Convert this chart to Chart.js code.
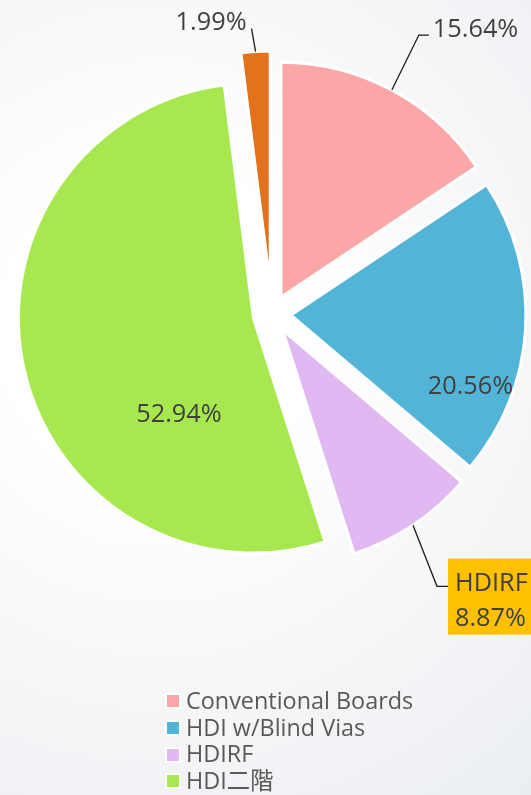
<!DOCTYPE html>
<html>
<head>
<meta charset="utf-8">
<script src="https://cdn.jsdelivr.net/npm/chart.js@4/dist/chart.umd.min.js"></script>
<style>
html, body { margin: 0; padding: 0; }
body {
  width: 531px; height: 795px; overflow: hidden; position: relative;
  background: radial-gradient(circle at 160px 330px, #ffffff 0px, #ffffff 150px, #e7eaee 680px);
  font-family: 'Open Sans', 'Noto Sans CJK TC', sans-serif;
}
#chart { position: absolute; left: 0; top: 0; }
#legend { position: absolute; left: 165px; top: 687px; color: #595959; font-size: 23.4px; }
.row { display: flex; align-items: center; height: 26.7px; line-height: 26.7px; white-space: nowrap; }
.box { width: 12px; height: 12px; border: 2px solid #fff; margin-right: 5px; position: relative; top: 1px; }
</style>
</head>
<body>
<canvas id="chart" width="531" height="795"></canvas>
<div id="legend"></div>
<script>
// data
const categories = ['Conventional Boards', 'HDI w/Blind Vias', 'HDIRF', 'HDI二階', 'Others'];
const shares = [15.64, 20.56, 8.87, 52.94, 1.99];
const percentLabels = ['15.64%', '20.56%', '8.87%', '52.94%', '1.99%'];
const legendCount = 4;

// styles
const colors = ['#fba7a8', '#52b4d7', '#e0b9f3', '#a8e84f', '#e2721c'];
const explode = [19, 19, 19, 19, 28];
const labelFont = "25.3px 'Open Sans', 'Noto Sans CJK TC', sans-serif";
const textColor = '#404040';

// how each slice gets its label
const labelPlace = [
    { kind: 'leader', dx: 27, dy: -55, run: 10, align: 'left' },
    { kind: 'inside', deg: 111.3, frac: 0.82 },
    { kind: 'box', dx: 24, dy: 61, run: 11, title: 'HDIRF' },
    { kind: 'inside', deg: 218, frac: 0.515 },
    { kind: 'leader', dx: -4, dy: -23, run: 0, align: 'right' }
];

const explodePlugin = {
    id: 'explode',
    afterDatasetUpdate(chart, args) {
        args.meta.data.forEach((arc, i) => {
            const mid = (arc.startAngle + arc.endAngle) / 2;
            arc.x += Math.cos(mid) * explode[i];
            arc.y += Math.sin(mid) * explode[i];
        });
    }
};

function edgePoint(arc) {
    const mid = (arc.startAngle + arc.endAngle) / 2;
    return { x: arc.x + Math.cos(mid) * arc.outerRadius, y: arc.y + Math.sin(mid) * arc.outerRadius };
}

const labelPlugin = {
    id: 'sliceLabels',
    afterDatasetsDraw(chart) {
        const ctx = chart.ctx;
        const arcs = chart.getDatasetMeta(0).data;
        ctx.save();
        ctx.font = labelFont;
        ctx.strokeStyle = '#1a1a1a';
        ctx.lineWidth = 1.3;
        arcs.forEach((arc, i) => {
            const p = labelPlace[i];
            ctx.fillStyle = textColor;
            if (p.kind === 'inside') {
                const a = (p.deg - 90) * Math.PI / 180;
                const x = arc.x + Math.cos(a) * arc.outerRadius * p.frac;
                const y = arc.y + Math.sin(a) * arc.outerRadius * p.frac;
                ctx.textAlign = 'center';
                ctx.fillText(percentLabels[i], x, y + 9);
                return;
            }
            const e = edgePoint(arc);
            const elbow = { x: e.x + p.dx, y: e.y + p.dy };
            ctx.beginPath();
            ctx.moveTo(e.x, e.y);
            ctx.lineTo(elbow.x, elbow.y);
            ctx.lineTo(elbow.x + p.run, elbow.y);
            ctx.stroke();
            if (p.kind === 'leader') {
                ctx.textAlign = p.align;
                const tx = p.align === 'left' ? elbow.x + p.run + 4 : elbow.x - 5;
                ctx.fillText(percentLabels[i], tx, elbow.y + 1.5);
            } else {
                const left = elbow.x + p.run;
                ctx.fillStyle = '#ffc000';
                ctx.fillRect(left, elbow.y - 27.7, 92, 76);
                ctx.fillStyle = textColor;
                ctx.textAlign = 'left';
                ctx.fillText(p.title, left + 7, elbow.y + 4.5);
                ctx.fillText(percentLabels[i], left + 7, elbow.y + 39.5);
            }
        });
        ctx.restore();
    }
};

new Chart(document.getElementById('chart'), {
    type: 'pie',
    data: {
        labels: categories,
        datasets: [{
            data: shares,
            backgroundColor: colors,
            borderColor: '#ffffff',
            borderWidth: 3,
            radius: 235
        }]
    },
    options: {
        responsive: false,
        animation: false,
        events: [],
        layout: { padding: { left: 17, right: 4, top: 40, bottom: 207 } },
        plugins: {
            legend: { display: false },
            tooltip: { enabled: false }
        }
    },
    plugins: [explodePlugin, labelPlugin]
});

// legend (first four categories only)
const legendEl = document.getElementById('legend');
categories.slice(0, legendCount).forEach((name, i) => {
    const row = document.createElement('div');
    row.className = 'row';
    const box = document.createElement('span');
    box.className = 'box';
    box.style.background = colors[i];
    const txt = document.createElement('span');
    txt.textContent = name;
    row.appendChild(box);
    row.appendChild(txt);
    legendEl.appendChild(row);
});
</script>
</body>
</html>
